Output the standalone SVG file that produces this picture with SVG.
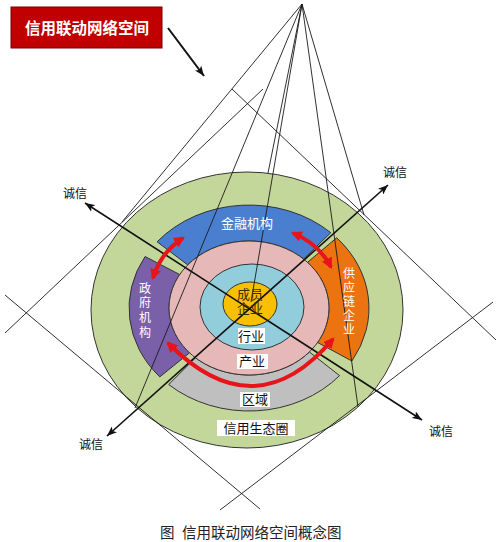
<svg xmlns="http://www.w3.org/2000/svg" width="500" height="542" viewBox="0 0 500 542">
<defs>
<style>
.cjk{font-family:"Noto Sans CJK SC","Noto Sans CJK TC",sans-serif}
.thin{stroke:#1a1a1a;stroke-width:0.9;fill:none}
.cx{stroke:#111;stroke-width:1.6;fill:none;marker-start:url(#ab);marker-end:url(#ab)}
.red{stroke:#e8141b;stroke-width:4;fill:none;marker-start:url(#ar);marker-end:url(#ar)}
.out{stroke:#333;stroke-width:1}
.lab{font-size:13px;fill:#111;text-anchor:middle}
.wt{font-size:13px;fill:#fff;text-anchor:middle}
.vt{font-size:12px;fill:#fff;writing-mode:vertical-rl;text-orientation:upright}
.box{fill:#fff}
</style>
<marker id="ab" viewBox="0 0 10 8" refX="10" refY="4" markerWidth="10" markerHeight="8" markerUnits="userSpaceOnUse" orient="auto-start-reverse">
<path d="M0,0 L10,4 L0,8 L2.5,4 z" fill="#111"/>
</marker>
<marker id="ar" viewBox="0 0 10 10" refX="8" refY="5" markerWidth="11" markerHeight="11" markerUnits="userSpaceOnUse" orient="auto-start-reverse">
<path d="M0,0 L10,5 L0,10 z" fill="#e8141b"/>
</marker>
</defs>
<rect width="500" height="542" fill="#fff"/>

<g id="title">
<rect x="11" y="7" width="151" height="41" fill="#c00000" stroke="#7a0000" stroke-width="1"/>
<text x="87" y="34" class="cjk" font-size="15.5" font-weight="bold" fill="#fff" text-anchor="middle">信用联动网络空间</text>
</g>

<g id="ecosystem">
<ellipse cx="247" cy="310" rx="156" ry="138" fill="#c4d79b" class="out"/>
</g>
<g id="finance">
<path d="M157.1,241.8 A120,103 0 0 1 330.8,232.7 L303.6,259 A80,67 0 0 0 187.7,264.9 Z" fill="#4a7fd0" class="out"/>
</g>
<g id="government">
<path d="M145.1,256.5 A120,103 0 0 0 159.8,376.9 L189.6,352.8 A80,67 0 0 1 179.7,274.5 Z" fill="#7a60a8" class="out"/>
</g>
<g id="supply">
<path d="M336.7,237.8 A120,103 0 0 1 351.9,361 L317.6,342.5 A80,67 0 0 0 307.5,262.3 Z" fill="#eb7310" class="out"/>
</g>
<g id="region">
<path d="M168.7,384.5 A120,103 0 0 0 339.6,375.6 L309.4,352 A80,67 0 0 1 195.5,357.8 Z" fill="#bfbfbf" class="out"/>
</g>
<g id="chanye">
<ellipse cx="249" cy="308" rx="80" ry="67" fill="#e6b9b8" class="out"/>
</g>
<g id="hangye">
<ellipse cx="252" cy="307" rx="52" ry="43" fill="#92cddc" class="out"/>
</g>
<g id="member">
<ellipse cx="250" cy="304" rx="27" ry="22" fill="#f8c000" class="out"/>
</g>

<g id="connectors">
<path class="thin" d="M302,4 L122,222"/>
<path class="thin" d="M302,4 L135,408"/>
<path class="thin" d="M302,4 L268,173"/>
<path class="thin" d="M302,4 L251,302"/>
<path class="thin" d="M302,4 L358,407"/>
<path class="thin" d="M302,4 L364,215"/>
<path class="thin" d="M263,89 L5,333"/>
<path class="thin" d="M232,89 L496,340"/>
<path class="thin" d="M493,302 L220,510"/>
<path class="thin" d="M5,295 L260,509"/>
<path class="cx" d="M107,436 L388,185"/>
<path class="cx" d="M85,203 L422,420"/>
<path d="M168,28 L204,76" stroke="#111" stroke-width="2" fill="none" marker-end="url(#ab)"/>
<path class="red" d="M183,238 Q161,252 153,278"/>
<path class="red" d="M293,233 Q319,244 331,267"/>
<path class="red" d="M168,343 Q255,431 333,339"/>
</g>

<g id="labels" class="cjk">
<text x="247" y="228" class="wt">金融机构</text>
<text class="vt" x="145" y="282" letter-spacing="2.7">政府机构</text>
<text class="vt" x="349" y="267" letter-spacing="2.2">供应链企业</text>
<text x="250" y="299" class="lab" font-size="12" style="fill:#3a2a00">成员</text>
<text x="250" y="313" class="lab" font-size="12" style="fill:#3a2a00">企业</text>
<rect class="box" x="238" y="328" width="27" height="16"/>
<text x="251" y="341" class="lab">行业</text>
<rect class="box" x="237" y="354" width="31" height="15"/>
<text x="252" y="366" class="lab">产业</text>
<rect class="box" x="240" y="392" width="30" height="15"/>
<text x="255" y="404" class="lab">区域</text>
<rect class="box" x="217" y="420" width="78" height="16"/>
<text x="256" y="433" class="lab">信用生态圈</text>
<text x="75" y="198" font-size="12" fill="#111" text-anchor="middle">诚信</text>
<text x="395" y="177" font-size="12" fill="#111" text-anchor="middle">诚信</text>
<text x="91" y="449" font-size="12" fill="#111" text-anchor="middle">诚信</text>
<text x="441" y="436" font-size="12" fill="#111" text-anchor="middle">诚信</text>
<text x="160" y="538" font-size="14.5" fill="#222">图</text>
<text x="182" y="538" font-size="14.5" fill="#222">信用联动网络空间概念图</text>
</g>
</svg>
